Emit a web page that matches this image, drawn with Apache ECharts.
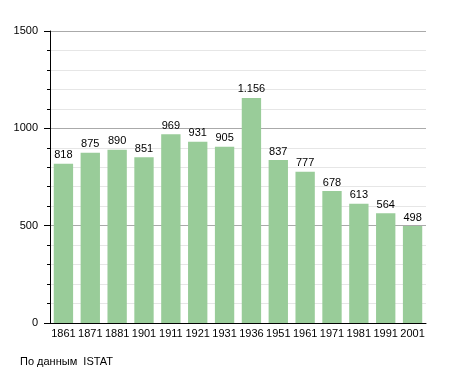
<!DOCTYPE html>
<html><head><meta charset="utf-8">
<script src="https://cdn.jsdelivr.net/npm/echarts@6/dist/echarts.min.js"></script>
<style>html,body{margin:0;padding:0;background:#fff}#c{width:455px;height:373px}</style>
</head><body><div id="c"></div>
<script>
const years = ['1861','1871','1881','1901','1911','1921','1931','1936','1951','1961','1971','1981','1991','2001'];
const population = [818,875,890,851,969,931,905,1156,837,777,678,613,564,498];
const valueLabels = ['818','875','890','851','969','931','905','1.156','837','777','678','613','564','498'];
const yTicks = [0,500,1000,1500];
const sourceText = 'По данным  ISTAT';

const chart = echarts.init(document.getElementById('c'), null, {renderer:'canvas'});
const font = 'Liberation Sans, Arial, sans-serif';
chart.setOption({
  animation:false,
  textStyle:{fontFamily:font},
  grid:{left:50,right:29,top:31,bottom:50,containLabel:false},
  graphic:[{type:'text',left:20,top:356,style:{text:sourceText,font:'11px '+font,fill:'#000'}}],
  xAxis:{type:'category',data:years,
    axisLine:{show:true,lineStyle:{color:'#000',width:1}},
    axisTick:{show:false},
    axisLabel:{color:'#000',fontSize:11,margin:5,interval:0}},
  yAxis:{type:'value',min:yTicks[0],max:yTicks[yTicks.length-1],interval:500,
    axisLine:{show:true,lineStyle:{color:'#000',width:1}},
    axisTick:{show:true,length:6,lineStyle:{color:'#000'}},
    minorTick:{show:true,splitNumber:5,length:3,lineStyle:{color:'#000'}},
    splitLine:{show:true,lineStyle:{color:'#aaaaaa',width:1}},
    minorSplitLine:{show:true,lineStyle:{color:'#e6e6e6',width:1}},
    axisLabel:{color:'#000',fontSize:11,margin:12,formatter:v=>String(v)}},
  series:[{type:'bar',data:population,barCategoryGap:'28%',
    itemStyle:{color:'#99cc99'},
    label:{show:true,position:'top',distance:3,color:'#000',fontSize:11,
      formatter:p=>valueLabels[p.dataIndex]}}]
});
</script></body></html>
